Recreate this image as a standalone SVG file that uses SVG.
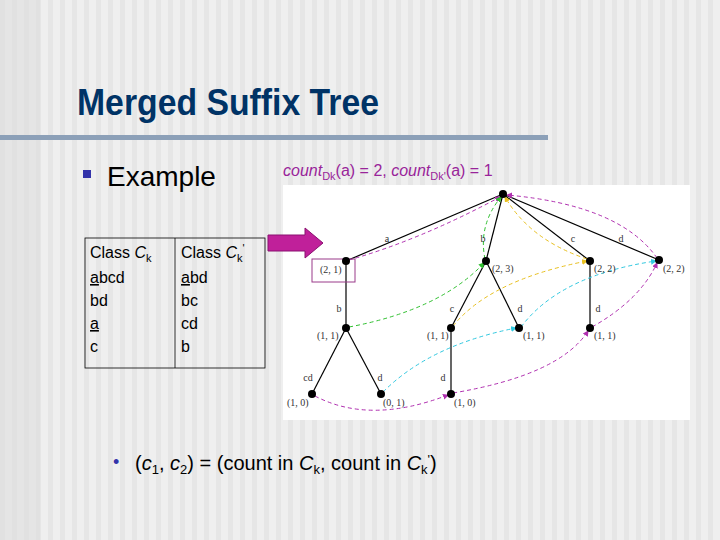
<svg xmlns="http://www.w3.org/2000/svg" width="720" height="540" viewBox="0 0 720 540">
<defs>
<pattern id="st" width="12" height="540" patternUnits="userSpaceOnUse"><rect width="12" height="540" fill="#efefef"/><rect width="5" height="540" fill="#e6e6e6"/></pattern>
<marker id="mM" markerWidth="6" markerHeight="6" refX="5" refY="3" orient="auto"><path d="M0,0L6,3L0,6z" fill="#b030b0"/></marker>
<marker id="mG" markerWidth="6" markerHeight="6" refX="5" refY="3" orient="auto"><path d="M0,0L6,3L0,6z" fill="#30c030"/></marker>
<marker id="mY" markerWidth="6" markerHeight="6" refX="5" refY="3" orient="auto"><path d="M0,0L6,3L0,6z" fill="#e8c020"/></marker>
<marker id="mC" markerWidth="6" markerHeight="6" refX="5" refY="3" orient="auto"><path d="M0,0L6,3L0,6z" fill="#30c8e0"/></marker>
</defs>
<style>
.t{font-family:"Liberation Serif",serif;font-size:10px;fill:#333}
.e{stroke:#000;stroke-width:1.2}
.n{fill:#000}
.s{fill:none;stroke-width:1;stroke-dasharray:4,3}
.tb{font-family:"Liberation Sans",Arial,sans-serif;font-size:16px;fill:#000}
</style>
<rect width="720" height="540" fill="url(#st)"/>
<rect x="0" y="0" width="40" height="540" fill="#dcdcdc" opacity="0.5"/>
<text x="77" y="115" font-family="Liberation Sans,Arial,sans-serif" font-weight="bold" font-size="36" fill="#003366" textLength="302" lengthAdjust="spacingAndGlyphs">Merged Suffix Tree</text>
<rect x="0" y="135" width="548" height="5" fill="#8ca0b8"/>
<rect x="83" y="170" width="8" height="8" fill="#3333aa"/>
<text x="107" y="186" font-family="Liberation Sans,Arial,sans-serif" font-size="28" fill="#000">Example</text>
<text x="283" y="176" font-family="Liberation Sans,Arial,sans-serif" font-size="16" fill="#99249a"><tspan font-style="italic">count</tspan><tspan font-size="11" dy="4">Dk</tspan><tspan dy="-4">(a) = 2, </tspan><tspan font-style="italic">count</tspan><tspan font-size="11" dy="4">Dk'</tspan><tspan dy="-4">(a) = 1</tspan></text>
<g id="table">
<rect x="85" y="238" width="180" height="130" fill="none" stroke="#000" stroke-width="0.8"/>
<line x1="175" y1="238" x2="175" y2="368" stroke="#000" stroke-width="0.8"/>
<text class="tb" x="90" y="258">Class <tspan font-style="italic">C</tspan><tspan font-size="11" dy="4">k</tspan></text>
<text class="tb" x="90" y="283"><tspan text-decoration="underline">a</tspan>bcd</text>
<text class="tb" x="90" y="306">bd</text>
<text class="tb" x="90" y="329" text-decoration="underline">a</text>
<text class="tb" x="90" y="352">c</text>
<text class="tb" x="181" y="258">Class <tspan font-style="italic">C</tspan><tspan font-size="11" dy="4">k</tspan><tspan dy="-10" font-size="11">'</tspan></text>
<text class="tb" x="181" y="283"><tspan text-decoration="underline">a</tspan>bd</text>
<text class="tb" x="181" y="306">bc</text>
<text class="tb" x="181" y="329">cd</text>
<text class="tb" x="181" y="352">b</text>
</g>
<rect x="283" y="185" width="407" height="235" fill="#fff"/>
<path id="arrow" d="M268,235H305V228L323,243L305,258V251H268z" fill="#c0209a" stroke="#8a1070" stroke-width="1"/>
<g id="connectors">
<line class="e" x1="503" y1="194" x2="346" y2="261"/>
<line class="e" x1="503" y1="194" x2="486" y2="261"/>
<line class="e" x1="503" y1="194" x2="590" y2="261"/>
<line class="e" x1="503" y1="194" x2="659" y2="260"/>
<line class="e" x1="346" y1="261" x2="346" y2="328"/>
<line class="e" x1="486" y1="261" x2="451" y2="328"/>
<line class="e" x1="486" y1="261" x2="519" y2="328"/>
<line class="e" x1="590" y1="261" x2="590" y2="328"/>
<line class="e" x1="346" y1="328" x2="312" y2="394"/>
<line class="e" x1="346" y1="328" x2="381" y2="394"/>
<line class="e" x1="451" y1="328" x2="451" y2="394"/>
<path class="s" stroke="#b030b0" d="M349,260Q420,240 500,197" marker-end="url(#mM)"/>
<path class="s" stroke="#b030b0" d="M657,258Q620,205 507,195" marker-end="url(#mM)"/>
<path class="s" stroke="#b030b0" d="M592,327Q640,300 657,263" marker-end="url(#mM)"/>
<path class="s" stroke="#b030b0" d="M453,393Q560,375 588,331" marker-end="url(#mM)"/>
<path class="s" stroke="#b030b0" d="M315,396Q370,425 448,395" marker-end="url(#mM)"/>
<path class="s" stroke="#30c030" d="M349,327Q440,310 484,263" marker-end="url(#mG)"/>
<path class="s" stroke="#30c030" d="M485,259Q478,225 501,197" marker-end="url(#mG)"/>
<path class="s" stroke="#e8c020" d="M453,326Q490,280 587,261" marker-end="url(#mY)"/>
<path class="s" stroke="#e8c020" d="M587,259Q530,240 505,197" marker-end="url(#mY)"/>
<path class="s" stroke="#30c8e0" d="M383,392Q430,345 516,328" marker-end="url(#mC)"/>
<path class="s" stroke="#30c8e0" d="M521,327Q560,275 656,261" marker-end="url(#mC)"/>
</g>
<g id="labels">
<text class="t" x="387" y="242" text-anchor="middle">a</text>
<text class="t" x="483" y="242" text-anchor="middle">b</text>
<text class="t" x="573" y="242" text-anchor="middle">c</text>
<text class="t" x="621" y="242" text-anchor="middle">d</text>
<text class="t" x="339" y="312" text-anchor="middle">b</text>
<text class="t" x="452" y="312" text-anchor="middle">c</text>
<text class="t" x="520" y="312" text-anchor="middle">d</text>
<text class="t" x="598" y="312" text-anchor="middle">d</text>
<text class="t" x="308" y="381" text-anchor="middle">cd</text>
<text class="t" x="380" y="381" text-anchor="middle">d</text>
<text class="t" x="443" y="381" text-anchor="middle">d</text>
</g>
<g id="root"><circle class="n" cx="503" cy="194" r="4"/></g>
<g id="n21"><rect x="312" y="259" width="43" height="23" fill="none" stroke="#9a3a8a" stroke-width="1"/><circle class="n" cx="346" cy="261" r="4"/><text class="t" x="320" y="273">(2, 1)</text></g>
<g id="n23"><circle class="n" cx="486" cy="261" r="4"/><text class="t" x="492" y="272">(2, 3)</text></g>
<g id="n22a"><circle class="n" cx="590" cy="261" r="4"/><text class="t" x="594" y="272">(2, 2)</text></g>
<g id="n22b"><circle class="n" cx="659" cy="260" r="4"/><text class="t" x="663" y="272">(2, 2)</text></g>
<g id="n11a"><circle class="n" cx="346" cy="328" r="4"/><text class="t" x="317" y="339">(1, 1)</text></g>
<g id="n11b"><circle class="n" cx="451" cy="328" r="4"/><text class="t" x="427" y="339">(1, 1)</text></g>
<g id="n11c"><circle class="n" cx="519" cy="328" r="4"/><text class="t" x="523" y="339">(1, 1)</text></g>
<g id="n11d"><circle class="n" cx="590" cy="328" r="4"/><text class="t" x="594" y="339">(1, 1)</text></g>
<g id="n10a"><circle class="n" cx="312" cy="394" r="4"/><text class="t" x="287" y="406">(1, 0)</text></g>
<g id="n01"><circle class="n" cx="381" cy="394" r="4"/><text class="t" x="383" y="406">(0, 1)</text></g>
<g id="n10b"><circle class="n" cx="451" cy="394" r="4"/><text class="t" x="454" y="406">(1, 0)</text></g>
<text x="113" y="468" font-family="Liberation Sans,Arial,sans-serif" font-size="18" fill="#3333aa">•</text>
<text x="135" y="470" font-family="Liberation Sans,Arial,sans-serif" font-size="20" fill="#000">(<tspan font-style="italic">c</tspan><tspan font-size="13" dy="4">1</tspan><tspan dy="-4">, </tspan><tspan font-style="italic">c</tspan><tspan font-size="13" dy="4">2</tspan><tspan dy="-4">) = (count in </tspan><tspan font-style="italic">C</tspan><tspan font-size="13" dy="4">k</tspan><tspan dy="-4">, count in </tspan><tspan font-style="italic">C</tspan><tspan font-size="13" dy="4">k</tspan><tspan font-size="13" dy="-10">'</tspan><tspan dy="6">)</tspan></text>
</svg>
